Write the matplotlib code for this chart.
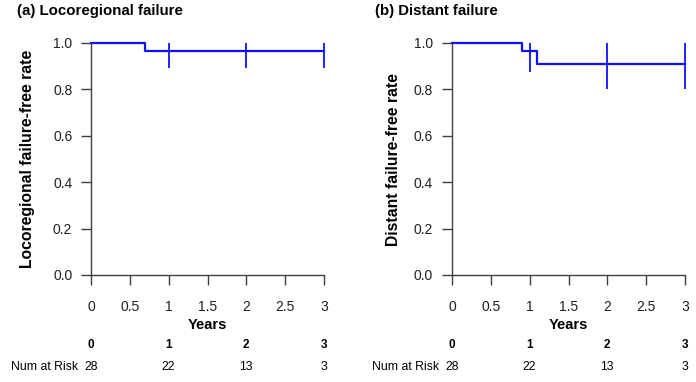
import numpy as np
import matplotlib.pyplot as plt
from matplotlib.transforms import blended_transform_factory

plt.rcParams['font.family'] = ['Liberation Sans', 'DejaVu Sans']

# Kaplan-Meier step curves
loco_time = [0, 0.70, 3.0]
loco_surv = [1.0, 0.964, 0.964]
dist_time = [0, 0.90, 1.10, 3.0]
dist_surv = [1.0, 0.964, 0.91, 0.91]

# confidence bars at yearly points
ci_time = [1, 2, 3]
loco_ci_low = [0.893, 0.893, 0.893]
loco_ci_high = [1.0, 1.0, 1.0]
dist_ci_low = [0.877, 0.80, 0.80]
dist_ci_high = [1.0, 1.0, 1.0]

# number at risk
risk_time = [0, 1, 2, 3]
risk_count = [28, 22, 13, 3]

xticks = [0, 0.5, 1, 1.5, 2, 2.5, 3]
xticklabels = ['0', '0.5', '1', '1.5', '2', '2.5', '3']
yticks = [0.0, 0.2, 0.4, 0.6, 0.8, 1.0]

panels = [
    ("(a) Locoregional failure", "Locoregional failure-free rate",
     loco_time, loco_surv, loco_ci_low, loco_ci_high),
    ("(b) Distant failure", "Distant failure-free rate",
     dist_time, dist_surv, dist_ci_low, dist_ci_high),
]

W, H = 696, 382
fig = plt.figure(figsize=(W / 100, H / 100), dpi=100)

ax_left_px = [91, 452]
title_px = [17, 375]
ylab_px = [28, 393]
risk_lab_px = [11, 372]
gray = '#404040'

for i, (title, ylab, t, s, lo, hi) in enumerate(panels):
    x0 = ax_left_px[i]
    ax = fig.add_axes([x0 / W, 1 - 275 / H, 233 / W, 232 / H])
    ax.step(t, s, where='post', color='#1010ff', lw=1.6, clip_on=False)
    ax.vlines(ci_time, lo, hi, color='#1010ff', lw=1.3, clip_on=False)
    ax.set_xlim(0, 3)
    ax.set_ylim(0, 1)
    for sp in ['top', 'right']:
        ax.spines[sp].set_visible(False)
    for sp in ['left', 'bottom']:
        ax.spines[sp].set_color(gray)
        ax.spines[sp].set_linewidth(1.0)
    ax.set_xticks(xticks)
    ax.set_xticklabels(xticklabels)
    ax.set_yticks(yticks)
    ax.set_yticklabels(['%.1f' % v for v in yticks])
    ax.tick_params(axis='both', direction='out', length=7, width=1.0,
                   color=gray, labelcolor='#202020', labelsize=10)
    ax.tick_params(axis='x', pad=11)
    ax.tick_params(axis='y', pad=6.5)

    fig.text(title_px[i] / W, 1 - 11 / H, title, fontsize=10.8,
             fontweight='bold', ha='left', va='center')
    fig.text(ylab_px[i] / W, 1 - 159 / H, ylab, fontsize=11.3,
             fontweight='bold', rotation=90, ha='center', va='center')

    tr = blended_transform_factory(ax.transData, fig.transFigure)
    ax.text(1.5, 1 - 325 / H, 'Years', transform=tr, fontsize=10.5,
            fontweight='bold', ha='center', va='center')
    for rt, rc in zip(risk_time, risk_count):
        ax.text(rt, 1 - 345 / H, str(rt), transform=tr, fontsize=8.5,
                fontweight='bold', ha='center', va='center')
        ax.text(rt, 1 - 367 / H, str(rc), transform=tr, fontsize=8.8,
                ha='center', va='center')
    fig.text(risk_lab_px[i] / W, 1 - 367 / H, 'Num at Risk', fontsize=8.8,
             ha='left', va='center')

fig.savefig('out.png', dpi=100)
